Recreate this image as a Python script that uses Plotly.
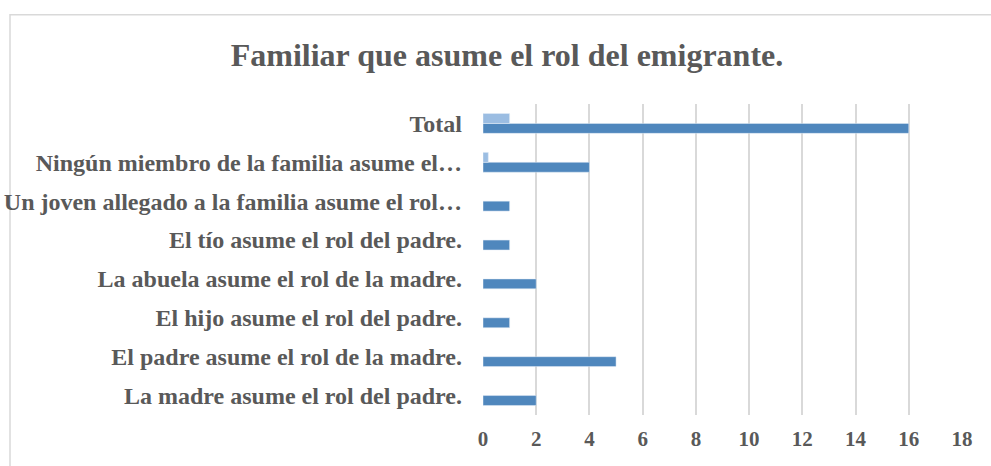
import plotly.graph_objects as go

categories = [
    "La madre asume el rol del padre.",
    "El padre asume el rol de la madre.",
    "El hijo asume el rol del padre.",
    "La abuela asume el rol de la madre.",
    "El tío asume el rol del padre.",
    "Un joven allegado a la familia asume el rol…",
    "Ningún miembro de la familia asume el…",
    "Total",
]
series_main = [2, 5, 1, 2, 1, 1, 4, 16]
series_light = [None, None, None, None, None, None, 0.2, 1]
x_ticks = [0, 2, 4, 6, 8, 10, 12, 14, 16, 18]

W, H = 991, 466
L, R, T, B = 482.5, 29, 103.5, 50.5
pw, ph = W - L - R, H - T - B

font_fam = "Liberation Serif, Times New Roman, serif"
txt = "#595959"

fig = go.Figure()
fig.add_trace(go.Bar(y=categories, x=series_main, orientation="h",
                     marker_color="#4f87bd", name="Serie 1"))
fig.add_trace(go.Bar(y=categories, x=series_light, orientation="h",
                     marker_color="#9bbde2", name="Serie 2"))

# chart border frame (pixel positions converted to paper coords)
fig.add_shape(type="rect", xref="paper", yref="paper",
              x0=(9 - L) / pw, x1=(W + 5 - L) / pw,
              y0=(H - B - (H + 5)) / ph, y1=(H - B - 14) / ph,
              line=dict(color="#d9d9d9", width=1.5), fillcolor="rgba(0,0,0,0)",
              layer="below")

fig.update_layout(
    width=W, height=H,
    margin=dict(l=L, r=R, t=T, b=B),
    paper_bgcolor="white", plot_bgcolor="white",
    barmode="group", bargap=0.49, bargroupgap=0,
    showlegend=False,
    title=dict(text="<b>Familiar que asume el rol del emigrante.</b>",
               x=507 / W, xref="container", xanchor="center",
               y=1 - 55 / H, yref="container", yanchor="middle",
               font=dict(family=font_fam, size=32, color=txt)),
    font=dict(family=font_fam, color=txt),
)
fig.update_xaxes(range=[0, 18], tickvals=x_ticks,
                 ticktext=[f"<b>{v}</b>" for v in x_ticks],
                 showgrid=True, gridcolor="#d9d9d9", gridwidth=1.5,
                 zeroline=False, showline=False, automargin=False,
                 ticklabelstandoff=9,
                 tickfont=dict(family=font_fam, size=21, color=txt))
fig.update_yaxes(tickvals=categories,
                 ticktext=[f"<b>{c}</b>" for c in categories],
                 showgrid=False, zeroline=False, showline=False,
                 ticklabelstandoff=20, automargin=False,
                 tickfont=dict(family=font_fam, size=24, color=txt))

fig.write_html("out.html", config={"displayModeBar": False},
               post_script="document.body.style.margin='0';")
